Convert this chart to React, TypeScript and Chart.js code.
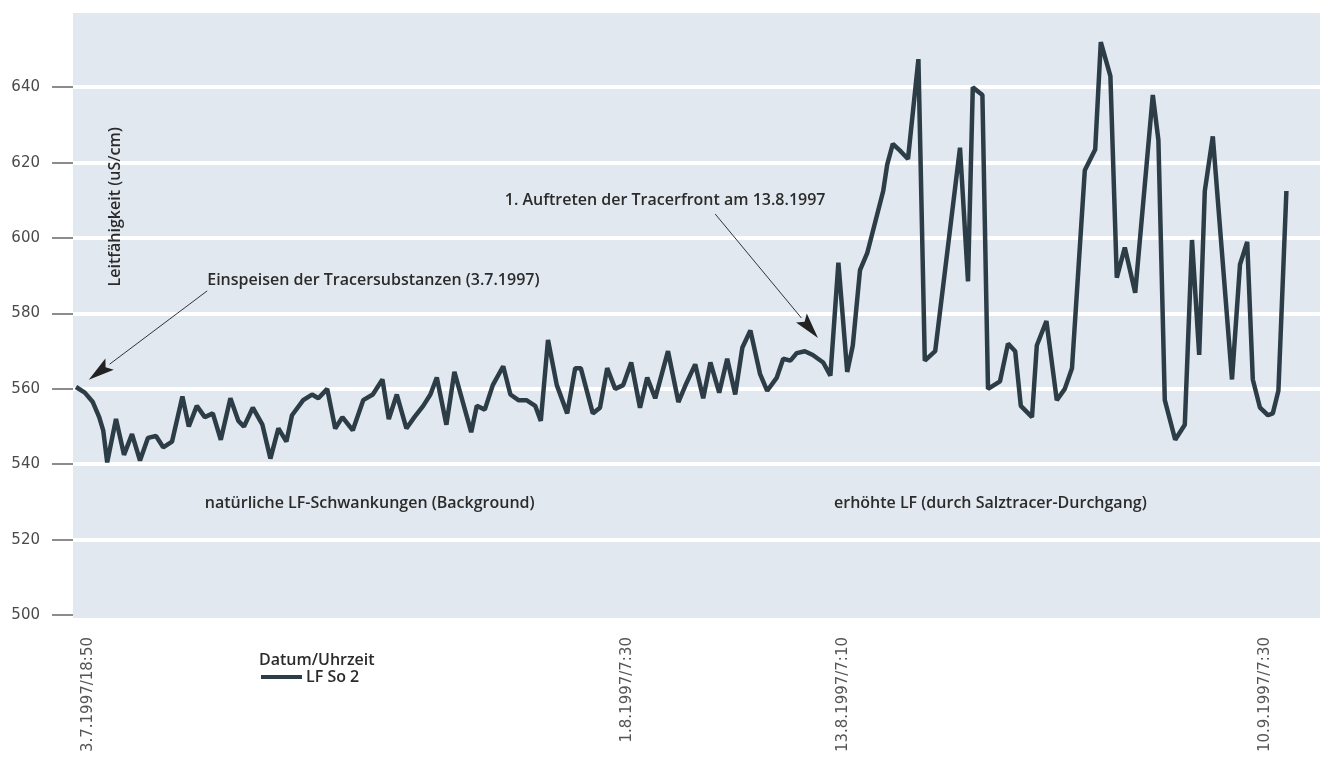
import React, { useEffect, useRef } from 'react';
import { Chart, registerables } from 'chart.js';

Chart.register(...registerables);

// Measurement sequence position (sample number along the recording)
const samplePositions = [
  0, 1.1, 2.1, 2.9, 3.4, 3.9, 5, 6, 7, 8, 9, 10, 10.9, 12, 13.3, 14.1, 15.1, 16.1, 17.1, 18.1,
  19.3, 20.3, 21, 22.1, 23.3, 24.3, 25.3, 26.3, 27, 28.4, 29.5, 30.3, 31.4, 32.4, 33.3, 34.6, 35.9, 37.1, 38.3, 39.1,
  40.1, 41.3, 42.3, 43.4, 44.3, 45.1, 46.3, 47.3, 49.4, 50.1, 51.1, 52.1, 53.4, 54.3, 55.3, 56.3, 57.4, 58.1, 59, 60.1,
  61.4, 62.4, 63.1, 64.6, 65.5, 66.4, 67.4, 68.4, 69.4, 70.5, 71.4, 72.4, 74, 75.3, 76.3, 77.4, 78.4, 79.3, 80.4, 81.4,
  82.4, 83.3, 84.3, 85.5, 86.4, 87.6, 88.4, 89.3, 90.1, 91.1, 92.1, 93.4, 94.3, 95.3, 96.4, 97.1, 98, 98.9, 100.9, 101.4,
  102.1, 103.1, 104, 105.3, 106.1, 107.4, 110.5, 111.5, 112.1, 113.3, 114, 115.5, 116.5, 117.4, 118.1, 119.5, 120.1, 121.3, 122.6, 123.6,
  124.5, 126.1, 127.4, 128.1, 129.3, 130.1, 131.1, 132.4, 134.6, 135.3, 136.1, 137.4, 138.6, 139.5, 140.4, 141.1, 142.1, 144.5, 145.5, 146.4,
  147.1, 148, 149, 149.6, 150.3, 151.3,
];

// LF So 2 conductivity (uS/cm)
const conductivity = [
  560.5, 559, 556.5, 552.5, 549, 540.5, 552, 542.5, 548, 541, 547, 547.5, 544.5, 546, 558, 550, 555.5, 552.5, 553.5, 546.5,
  557.5, 551.5, 550, 555, 550.5, 541.5, 549.5, 546, 553, 557, 558.5, 557.5, 560, 549.5, 552.5, 549, 557, 558.5, 562.5, 552,
  558.5, 549.5, 552.5, 555.5, 558.5, 563, 550.5, 564.5, 548.5, 555.5, 554.5, 561, 566, 558.5, 557, 557, 555.5, 551.5, 573, 561,
  553.5, 565.5, 565.5, 553.5, 555, 565.5, 560, 561, 567, 555, 563, 557.5, 570, 556.5, 561.5, 566.5, 557.5, 567, 559, 568,
  558.5, 571, 575.5, 564, 559.5, 563, 568, 567.5, 569.5, 570, 569, 567, 563.5, 593.5, 564.5, 571.5, 591.5, 596, 612.5, 619.5,
  625, 623, 621, 647.5, 567.5, 570, 624, 588.5, 640, 638, 560, 562, 572, 570, 555.5, 552.5, 571.5, 578, 557, 560,
  565.5, 618, 623.5, 652, 643, 589.5, 597.5, 585.5, 638, 626, 557, 546.5, 550.5, 599.5, 569, 612.5, 627, 562.5, 593, 599,
  562.5, 555, 553, 553.5, 559.5, 612.5,
];

const tickPositions = [1.5, 68.9, 95.9, 148.6];
const tickLabels = ['3.7.1997/18:50', '1.8.1997/7:30', '13.8.1997/7:10', '10.9.1997/7:30'];
const yTickValues = [500, 520, 540, 560, 580, 600, 620, 640, 660];

const seriesName = 'LF So 2';
const xTitle = 'Datum/Uhrzeit';
const yTitle = 'Leitfähigkeit (uS/cm)';

const notes = [
  { text: 'Einspeisen der Tracersubstanzen (3.7.1997)', x: 16.4, y: 588.9 },
  { text: '1. Auftreten der Tracerfront am 13.8.1997', x: 53.6, y: 610.1 },
  { text: 'natürliche LF-Schwankungen (Background)', x: 16.1, y: 529.7 },
  { text: 'erhöhte LF (durch Salztracer-Durchgang)', x: 94.75, y: 529.7 },
];
const arrows = [
  { from: [16.4, 586.0], to: [1.6, 562.4] },
  { from: [79.9, 606.4], to: [92.75, 573.5] },
];
const yTitlePos = { x: 4.9, y: 608.3 };

const PLOT_BG = '#e2e8ef';
const LINE = '#2d3d47';
const TEXT = '#2b2b2b';
const ANNO_FONT = '600 16px "Open Sans"';

export default function App() {
  const ref = useRef<HTMLCanvasElement>(null);

  useEffect(() => {
    document.body.style.margin = '0';
    const canvas = ref.current;
    if (!canvas) return;

    const bgPlugin = {
      id: 'plotBg',
      beforeDraw(chart: any) {
        const { ctx, chartArea: a } = chart;
        ctx.save();
        ctx.fillStyle = PLOT_BG;
        ctx.fillRect(a.left, a.top + 1, a.right - a.left, a.bottom - a.top + 2);
        ctx.restore();
      },
    };

    const annoPlugin = {
      id: 'annos',
      afterDraw(chart: any) {
        const { ctx, chartArea: a } = chart;
        const xs = chart.scales.x;
        const ys = chart.scales.y;
        ctx.save();
        ctx.fillStyle = TEXT;
        ctx.font = ANNO_FONT;
        ctx.textBaseline = 'middle';
        ctx.textAlign = 'left';
        for (const n of notes) {
          ctx.fillText(n.text, xs.getPixelForValue(n.x), ys.getPixelForValue(n.y));
        }
        // arrows
        ctx.strokeStyle = '#333';
        ctx.fillStyle = '#222';
        ctx.lineWidth = 1;
        for (const ar of arrows) {
          const x1 = xs.getPixelForValue(ar.from[0]);
          const y1 = ys.getPixelForValue(ar.from[1]);
          const x2 = xs.getPixelForValue(ar.to[0]);
          const y2 = ys.getPixelForValue(ar.to[1]);
          const ang = Math.atan2(y2 - y1, x2 - x1);
          const hl = 26;
          const hw = 7;
          const bx = x2 - hl * Math.cos(ang);
          const by = y2 - hl * Math.sin(ang);
          ctx.beginPath();
          ctx.moveTo(x1, y1);
          ctx.lineTo(bx, by);
          ctx.stroke();
          ctx.beginPath();
          ctx.moveTo(x2, y2);
          ctx.lineTo(bx + hw * Math.sin(ang), by - hw * Math.cos(ang));
          ctx.lineTo(bx + 5 * Math.cos(ang), by + 5 * Math.sin(ang));
          ctx.lineTo(bx - hw * Math.sin(ang), by + hw * Math.cos(ang));
          ctx.closePath();
          ctx.fill();
        }
        // y-axis title inside plot
        ctx.save();
        ctx.fillStyle = TEXT;
        ctx.font = ANNO_FONT;
        ctx.textAlign = 'center';
        ctx.translate(xs.getPixelForValue(yTitlePos.x), ys.getPixelForValue(yTitlePos.y));
        ctx.rotate(-Math.PI / 2);
        ctx.fillText(yTitle, 0, 0);
        ctx.restore();
        // x title + legend
        const lx = a.left + 186;
        ctx.fillStyle = TEXT;
        ctx.font = ANNO_FONT;
        ctx.textAlign = 'left';
        ctx.fillText(xTitle, lx, a.bottom + 45);
        ctx.strokeStyle = LINE;
        ctx.lineWidth = 4;
        ctx.beginPath();
        ctx.moveTo(lx + 2, a.bottom + 62);
        ctx.lineTo(lx + 43, a.bottom + 62);
        ctx.stroke();
        ctx.fillText(seriesName, lx + 47, a.bottom + 62);
        ctx.restore();
      },
    };

    const chart = new Chart(canvas, {
      type: 'line',
      data: {
        datasets: [
          {
            label: seriesName,
            data: samplePositions.map((x, i) => ({ x, y: conductivity[i] })),
            borderColor: LINE,
            borderWidth: 4.5,
            pointRadius: 0,
            borderJoinStyle: 'bevel',
            tension: 0,
            fill: false,
          },
        ],
      },
      options: {
        responsive: false,
        animation: false,
        devicePixelRatio: 1,
        events: [],
        layout: { padding: { left: 0, right: 12, top: 12, bottom: 0 } },
        plugins: { legend: { display: false }, tooltip: { enabled: false }, title: { display: false } },
        scales: {
          x: {
            type: 'linear',
            min: -0.375,
            max: 155.5,
            afterBuildTicks: (s: any) => {
              s.ticks = tickPositions.map((v) => ({ value: v }));
            },
            afterFit: (s: any) => {
              s.height = 145;
              s.paddingLeft = 0;
              s.paddingRight = 0;
              s.paddingTop = 0;
              s.paddingBottom = 0;
            },
            grid: { display: false, drawTicks: false },
            border: { display: false },
            ticks: {
              autoSkip: false,
              minRotation: 90,
              maxRotation: 90,
              padding: 22,
              color: '#555',
              font: { family: 'DejaVu Sans', size: 15 },
              callback: (_v: any, i: number) => tickLabels[i],
            },
          },
          y: {
            type: 'linear',
            min: 500,
            max: 660,
            afterBuildTicks: (s: any) => {
              s.ticks = yTickValues.map((v) => ({ value: v }));
            },
            afterFit: (s: any) => {
              s.width = 73;
              s.paddingTop = 0;
              s.paddingBottom = 0;
              s.paddingLeft = 0;
              s.paddingRight = 0;
            },
            grid: {
              color: (c: any) => (c.tick && c.tick.value > 500 && c.tick.value < 660 ? '#ffffff' : 'rgba(0,0,0,0)'),
              lineWidth: 4,
              drawTicks: true,
              tickLength: 21,
              tickWidth: 1.5,
              tickColor: (c: any) => (c.tick && c.tick.value < 660 ? '#666' : 'rgba(0,0,0,0)'),
            },
            border: { display: false },
            ticks: {
              padding: 12,
              color: '#4a4a4a',
              font: { family: 'DejaVu Sans', size: 15 },
              callback: (v: any) => (v === 660 ? '' : String(v)),
            },
          },
        },
      },
      plugins: [bgPlugin, annoPlugin],
    } as any);

    return () => chart.destroy();
  }, []);

  return <canvas ref={ref} width={1332} height={760} style={{ display: 'block' }} />;
}
